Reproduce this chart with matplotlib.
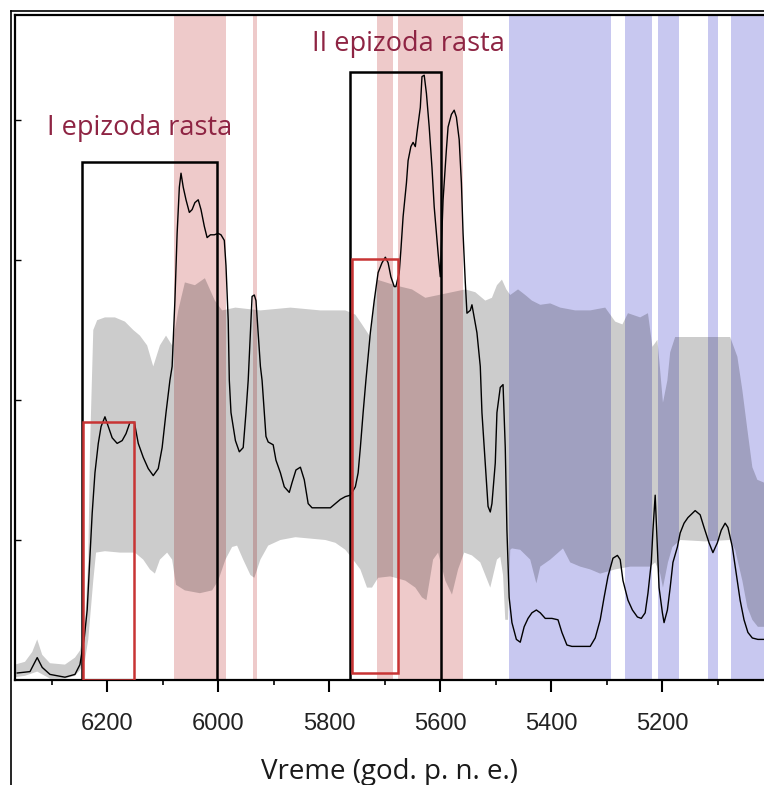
import numpy as np
import matplotlib
matplotlib.use("Agg")
import matplotlib.pyplot as plt
from matplotlib.patches import Rectangle
from matplotlib.lines import Line2D

# ---------------- data (years BC, relative index) ----------------
line_years = [6362, 6339, 6326, 6317, 6303, 6276, 6258, 6249, 6241, 6236, 6232, 6227, 6222, 6216, 6211,
              6204, 6198, 6191, 6182, 6173, 6166, 6159, 6151, 6144, 6135, 6126, 6117, 6108, 6101, 6094,
              6087, 6083, 6078, 6074, 6070, 6067, 6063, 6058, 6052, 6047, 6042, 6036, 6031, 6025, 6020,
              6014, 6007, 6000, 5995, 5989, 5986, 5982, 5980, 5977, 5969, 5962, 5955, 5950, 5946, 5942,
              5939, 5935, 5932, 5928, 5924, 5921, 5917, 5914, 5910, 5901, 5896, 5888, 5881, 5872, 5867,
              5860, 5852, 5845, 5838, 5831, 5816, 5798, 5789, 5780, 5771, 5762, 5753, 5748, 5744, 5739,
              5734, 5726, 5719, 5712, 5705, 5699, 5694, 5689, 5683, 5680, 5674, 5671, 5667, 5661, 5658,
              5653, 5649, 5645, 5642, 5636, 5633, 5629, 5625, 5620, 5615, 5611, 5607, 5604, 5600, 5595,
              5589, 5586, 5580, 5575, 5571, 5566, 5562, 5559, 5555, 5552, 5546, 5543, 5539, 5534, 5528,
              5525, 5519, 5514, 5510, 5507, 5501, 5498, 5492, 5487, 5483, 5480, 5476, 5471, 5463, 5456,
              5449, 5442, 5435, 5427, 5420, 5411, 5399, 5388, 5381, 5372, 5363, 5348, 5330, 5321, 5312,
              5305, 5298, 5289, 5281, 5276, 5271, 5262, 5254, 5245, 5238, 5231, 5226, 5220, 5217, 5213,
              5209, 5206, 5200, 5197, 5191, 5186, 5181, 5173, 5168, 5161, 5154, 5141, 5132, 5125, 5116,
              5109, 5101, 5094, 5087, 5082, 5074, 5067, 5060, 5053, 5046, 5038, 5028, 5017]
line_values = [0.05, 0.06, 0.16, 0.09, 0.04, 0.02, 0.04, 0.11, 0.31, 0.50, 0.81, 1.19, 1.48, 1.69, 1.81,
               1.88, 1.81, 1.73, 1.69, 1.71, 1.76, 1.84, 1.84, 1.69, 1.59, 1.51, 1.46, 1.51, 1.66, 1.91,
               2.14, 2.24, 2.71, 3.19, 3.52, 3.62, 3.52, 3.43, 3.34, 3.36, 3.41, 3.43, 3.36, 3.24, 3.16,
               3.18, 3.18, 3.19, 3.18, 3.14, 2.96, 2.57, 2.14, 1.91, 1.71, 1.63, 1.66, 1.91, 2.14, 2.48,
               2.74, 2.75, 2.71, 2.48, 2.24, 2.14, 1.91, 1.74, 1.70, 1.68, 1.57, 1.48, 1.38, 1.34, 1.41,
               1.50, 1.52, 1.43, 1.26, 1.23, 1.23, 1.23, 1.26, 1.29, 1.31, 1.32, 1.38, 1.48, 1.66, 1.91,
               2.14, 2.48, 2.71, 2.91, 2.98, 3.02, 2.98, 2.88, 2.81, 2.81, 2.91, 3.07, 3.31, 3.55, 3.71,
               3.81, 3.84, 3.81, 3.91, 4.09, 4.31, 4.32, 4.19, 3.95, 3.66, 3.38, 3.19, 3.05, 2.88, 3.43,
               3.79, 3.95, 4.04, 4.07, 4.02, 3.86, 3.55, 3.19, 2.84, 2.62, 2.64, 2.68, 2.59, 2.48, 2.24,
               1.91, 1.55, 1.24, 1.20, 1.26, 1.55, 1.91, 2.09, 2.11, 1.66, 1.07, 0.59, 0.41, 0.29, 0.27,
               0.38, 0.44, 0.48, 0.50, 0.48, 0.44, 0.44, 0.43, 0.34, 0.25, 0.24, 0.24, 0.24, 0.30, 0.43,
               0.59, 0.74, 0.87, 0.89, 0.86, 0.71, 0.57, 0.50, 0.45, 0.44, 0.48, 0.62, 0.84, 1.07, 1.32,
               0.95, 0.66, 0.48, 0.41, 0.50, 0.66, 0.84, 0.95, 1.05, 1.12, 1.16, 1.21, 1.18, 1.09, 0.98,
               0.91, 0.98, 1.07, 1.12, 1.09, 0.95, 0.76, 0.57, 0.43, 0.34, 0.30, 0.29, 0.29]

upper_years = [6366, 6348, 6335, 6326, 6317, 6303, 6276, 6258, 6249, 6240, 6234, 6231, 6225, 6218, 6204,
               6186, 6168, 6153, 6141, 6128, 6117, 6105, 6094, 6083, 6078, 6072, 6060, 6042, 6024, 6006,
               5993, 5969, 5924, 5870, 5816, 5771, 5753, 5741, 5726, 5719, 5714, 5690, 5672, 5651, 5627,
               5615, 5591, 5555, 5537, 5519, 5507, 5498, 5489, 5481, 5474, 5460, 5447, 5435, 5420, 5402,
               5384, 5357, 5330, 5303, 5285, 5272, 5262, 5240, 5226, 5218, 5209, 5204, 5199, 5191, 5186,
               5177, 5132, 5078, 5065, 5056, 5047, 5038, 5029, 5017]
upper_values = [0.11, 0.13, 0.20, 0.29, 0.18, 0.12, 0.11, 0.16, 0.21, 0.39, 0.86, 1.64, 2.50, 2.57, 2.59,
                2.59, 2.56, 2.50, 2.46, 2.39, 2.24, 2.39, 2.46, 2.39, 2.50, 2.64, 2.84, 2.82, 2.87, 2.71,
                2.64, 2.66, 2.64, 2.66, 2.64, 2.64, 2.61, 2.54, 2.45, 2.71, 2.86, 2.83, 2.81, 2.79, 2.73,
                2.74, 2.76, 2.79, 2.77, 2.71, 2.73, 2.82, 2.86, 2.79, 2.75, 2.79, 2.75, 2.71, 2.68, 2.69,
                2.66, 2.64, 2.64, 2.66, 2.56, 2.54, 2.62, 2.59, 2.62, 2.38, 2.43, 2.21, 1.98, 2.14, 2.34,
                2.45, 2.45, 2.45, 2.31, 2.07, 1.79, 1.52, 1.43, 1.41]

lower_years = [6366, 6348, 6326, 6303, 6276, 6258, 6249, 6240, 6234, 6231, 6225, 6220, 6204, 6177, 6150,
               6135, 6123, 6114, 6105, 6092, 6083, 6076, 6060, 6033, 6011, 6000, 5987, 5975, 5966, 5955,
               5942, 5935, 5924, 5910, 5888, 5861, 5834, 5807, 5789, 5771, 5759, 5744, 5732, 5723, 5712,
               5690, 5663, 5645, 5633, 5625, 5613, 5604, 5591, 5579, 5568, 5557, 5543, 5528, 5510, 5498,
               5492, 5487, 5483, 5478, 5474, 5471, 5456, 5438, 5427, 5420, 5402, 5379, 5366, 5348, 5330,
               5312, 5285, 5258, 5222, 5213, 5204, 5199, 5190, 5182, 5168, 5123, 5078, 5069, 5056, 5047,
               5038, 5028, 5017]
lower_values = [0.02, 0.03, 0.06, 0.01, 0.01, 0.03, 0.07, 0.14, 0.29, 0.43, 0.71, 0.91, 0.92, 0.91, 0.91,
                0.86, 0.79, 0.76, 0.86, 0.91, 0.86, 0.68, 0.64, 0.62, 0.64, 0.71, 0.86, 0.95, 0.96, 0.86,
                0.75, 0.73, 0.86, 0.96, 1.00, 1.02, 1.01, 1.00, 0.98, 0.93, 0.87, 0.79, 0.66, 0.66, 0.73,
                0.74, 0.71, 0.66, 0.59, 0.57, 0.86, 0.91, 0.71, 0.61, 0.79, 0.91, 0.89, 0.84, 0.66, 0.86,
                0.88, 0.75, 0.43, 0.43, 0.93, 0.94, 0.93, 0.86, 0.69, 0.81, 0.86, 0.94, 0.84, 0.81, 0.79,
                0.76, 0.79, 0.81, 0.81, 0.84, 0.76, 0.66, 0.84, 0.95, 1.00, 0.99, 1.00, 0.93, 0.71, 0.52,
                0.43, 0.38, 0.38]

pink_bands = [(6079, 5986), (5937, 5930), (5714, 5685), (5676, 5559)]
blue_bands = [(5476, 5292), (5267, 5218), (5208, 5170), (5118, 5100), (5076, 4990)]

black_boxes = [(6245, 6002, 0.0, 3.70), (5762, 5598, 0.0, 4.34)]   # (start, end, bottom, top)
red_boxes = [(6243, 6151, 0.0, 1.84), (5759, 5676, 0.05, 3.01)]

labels = ["I epizoda rasta", "II epizoda rasta"]
label_pos = [(6141, 3.94), (5658, 4.54)]

x_major = [6200, 6000, 5800, 5600, 5400, 5200]
x_minor = [6300, 6100, 5900, 5700, 5500, 5300, 5100]
x_label = "Vreme (god. p. n. e.)"

# ---------------- figure ----------------
W, H = 764, 785
fig = plt.figure(figsize=(W / 100, H / 100), dpi=100)
ax = fig.add_axes([15 / W, (H - 680) / H, (W - 15) / W, (680 - 15) / H])
ax.set_xlim(6366, 5017)
ax.set_ylim(0, 4.75)

pink = "#eecaca"
blue = "#c8c8f0"
for a, b in pink_bands:
    ax.axvspan(b, a, color=pink, lw=0, zorder=0)
for a, b in blue_bands:
    ax.axvspan(b, a, color=blue, lw=0, zorder=0)

env_x = np.r_[upper_years, lower_years[::-1]]
env_y = np.r_[upper_values, lower_values[::-1]]
ax.fill(env_x, env_y, color="black", alpha=0.2, lw=0, zorder=1)

ax.plot(line_years, line_values, color="black", lw=1.0, zorder=3)

for x0, x1, y0, y1 in black_boxes:
    ax.add_patch(Rectangle((x1, y0), x0 - x1, y1 - y0, fill=False, ec="black", lw=1.8, zorder=4))
for x0, x1, y0, y1 in red_boxes:
    ax.add_patch(Rectangle((x1, y0), x0 - x1, y1 - y0, fill=False, ec="#c83434", lw=1.8, zorder=5))

for txt, (x, y) in zip(labels, label_pos):
    ax.text(x, y, txt, ha="center", va="center", color="#8e2443", fontsize=19.5,
            family=["Open Sans", "DejaVu Sans"], zorder=6)

ax.set_xticks(x_major)
ax.set_xticks(x_minor, minor=True)
ax.set_xticklabels([str(v) for v in x_major], family=["Liberation Sans", "DejaVu Sans"],
                   fontsize=17, color="#222222")
ax.tick_params(axis="x", which="major", direction="out", length=8.6, width=1.5, pad=15)
ax.tick_params(axis="x", which="minor", direction="out", length=3.6, width=1.2)
ax.set_yticks([1, 2, 3, 4])
ax.set_yticklabels([])
ax.tick_params(axis="y", which="major", direction="in", length=4, width=1.0)

ax.set_xlabel(x_label, family=["Open Sans", "DejaVu Sans"], fontsize=20, labelpad=17, color="#1a1a1a")

for s in ["left", "bottom", "top"]:
    ax.spines[s].set_linewidth(1.6)
ax.spines["right"].set_visible(False)

fig.add_artist(Line2D([11 / W, 11 / W], [0, 1 - 11 / H], transform=fig.transFigure, color="black", lw=1.2))
fig.add_artist(Line2D([11 / W, 1], [1 - 11 / H, 1 - 11 / H], transform=fig.transFigure, color="black", lw=1.2))

fig.savefig("out.png", dpi=100)
